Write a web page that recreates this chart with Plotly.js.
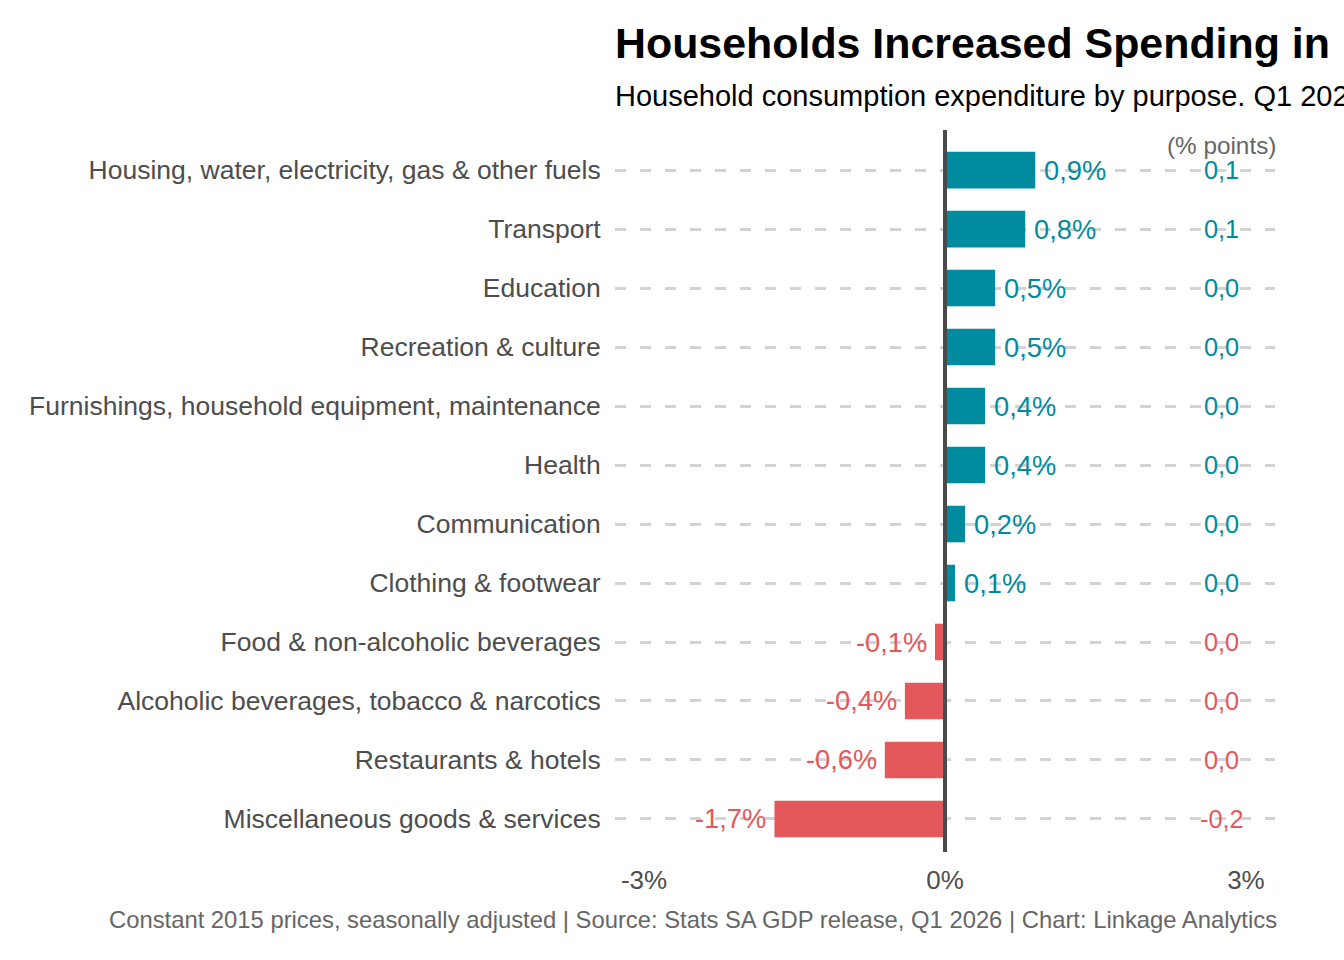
<!DOCTYPE html>
<html>
<head>
<meta charset="utf-8">
<script src="https://cdn.plot.ly/plotly-3.0.1.min.js"></script>
<style>html,body{margin:0;padding:0;background:#fff;}#chart{width:1344px;height:960px;}</style>
</head>
<body>
<div id="chart"></div>
<script>
const categories = [
  "Housing, water, electricity, gas & other fuels",
  "Transport",
  "Education",
  "Recreation & culture",
  "Furnishings, household equipment, maintenance",
  "Health",
  "Communication",
  "Clothing & footwear",
  "Food & non-alcoholic beverages",
  "Alcoholic beverages, tobacco & narcotics",
  "Restaurants & hotels",
  "Miscellaneous goods & services"
];
const growthPct = [0.9, 0.8, 0.5, 0.5, 0.4, 0.4, 0.2, 0.1, -0.1, -0.4, -0.6, -1.7];
const contributionPts = [0.1, 0.1, 0.0, 0.0, 0.0, 0.0, 0.0, 0.0, 0.0, 0.0, 0.0, -0.2];
const xTickVals = [-3, 0, 3];
const xTickText = ["-3%", "0%", "3%"];

const POS = "#008b9e", NEG = "#e4585c";
const FONT = "Liberation Sans, Arial, sans-serif";
const fmt = (v, d) => v.toFixed(d).replace(".", ",");
const colorOf = v => v >= 0 ? POS : NEG;

const bars = {
  type: "bar", orientation: "h",
  y: categories, x: growthPct,
  marker: {color: growthPct.map(colorOf), line: {width: 0}},
  width: 0.62, hoverinfo: "skip"
};

const annotations = [];
categories.forEach((c, i) => {
  const v = growthPct[i];
  annotations.push({
    x: v, y: c, xref: "x", yref: "y",
    text: fmt(v, 1) + "%", showarrow: false,
    xanchor: v >= 0 ? "left" : "right", xshift: v >= 0 ? 7 : -6,
    font: {family: FONT, size: 27.3, color: colorOf(v)}
  });
  annotations.push({
    x: 2.75, y: c, xref: "x", yref: "y",
    text: fmt(contributionPts[i], 1), showarrow: false,
    xanchor: "center", xshift: 1,
    font: {family: FONT, size: 25.3, color: colorOf(v)}
  });
});
annotations.push({
  x: 2.75, y: 0.979, xref: "x", yref: "paper", text: "(% points)", showarrow: false,
  xanchor: "center", yanchor: "middle", xshift: 1, font: {family: FONT, size: 24.3, color: "#666666"}
});
annotations.push({
  x: 0, y: 1.047, xref: "paper", yref: "paper", xanchor: "left", yanchor: "middle", xshift: -2,
  text: "Household consumption expenditure by purpose. Q1 2026 vs Q4 2025 (% change q/q)",
  showarrow: false, font: {family: FONT, size: 29, color: "#000000"}
});
annotations.push({
  x: 1.006, y: -0.094, xref: "paper", yref: "paper", xanchor: "right", yanchor: "middle",
  text: "Constant 2015 prices, seasonally adjusted | Source: Stats SA GDP release, Q1 2026 | Chart: Linkage Analytics",
  showarrow: false, font: {family: FONT, size: 23.8, color: "#666666"}
});

const layout = {
  width: 1344, height: 960,
  paper_bgcolor: "#ffffff", plot_bgcolor: "#ffffff",
  margin: {l: 615, r: 69, t: 130, b: 108},
  showlegend: false,
  font: {family: FONT, color: "#4d4d4d"},
  title: {
    text: "<b>Households Increased Spending in</b>",
    x: 615 / 1344, xref: "container", xanchor: "left",
    y: 1 - 43 / 960, yref: "container", yanchor: "middle",
    font: {family: FONT, size: 42.9, color: "#000000"}
  },
  xaxis: {
    range: [-3.29, 3.29], tickvals: xTickVals, ticktext: xTickText,
    showgrid: false, zeroline: false, showline: false,
    ticks: "outside", ticklen: 5, tickcolor: "rgba(0,0,0,0)",
    tickfont: {family: FONT, size: 26, color: "#4d4d4d"}, fixedrange: true
  },
  yaxis: {
    type: "category", range: [11.56, -0.68],
    showgrid: true, gridcolor: "#d3d3d3", gridwidth: 3, griddash: "11px,14px",
    zeroline: false, showline: false,
    ticks: "outside", ticklen: 8, tickcolor: "rgba(0,0,0,0)",
    tickfont: {family: FONT, size: 26.5, color: "#4d4d4d"}, fixedrange: true
  },
  shapes: [{
    type: "line", xref: "x", yref: "paper", x0: 0, x1: 0, y0: 0, y1: 1,
    line: {color: "#4a4a4a", width: 4}, layer: "above"
  }],
  annotations: annotations,
  bargap: 0.38
};

Plotly.newPlot("chart", [bars], layout, {displayModeBar: false, staticPlot: true});
</script>
</body>
</html>
